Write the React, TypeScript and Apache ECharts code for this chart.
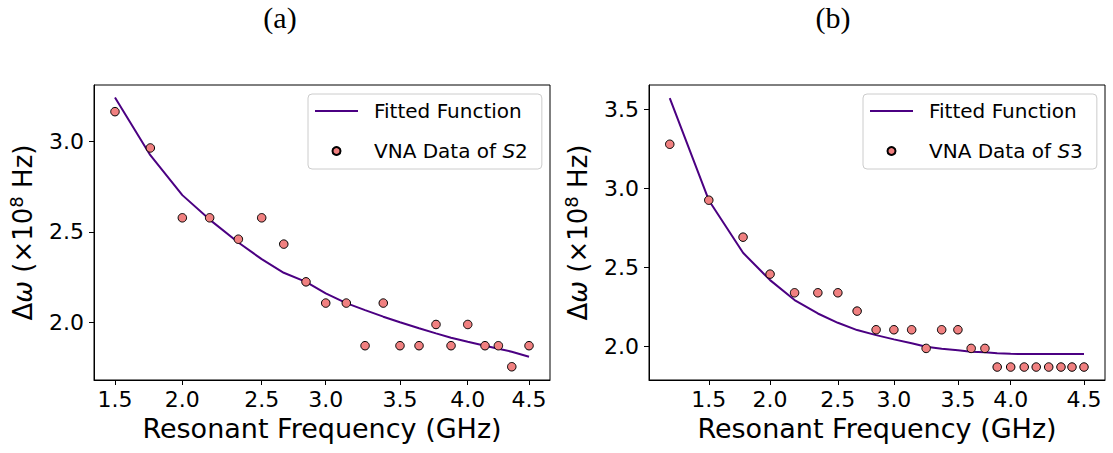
import React, { useEffect, useRef } from "react";
import * as echarts from "echarts";

// Panel (a): S2
const freqA = [1.500, 1.756, 1.988, 2.186, 2.394, 2.563, 2.723, 2.884, 3.027, 3.176, 3.312, 3.444, 3.565, 3.703, 3.826, 3.935, 4.056, 4.181, 4.278, 4.375, 4.500];
const vnaA = [3.163, 2.963, 2.578, 2.578, 2.460, 2.578, 2.433, 2.225, 2.108, 2.108, 1.873, 2.108, 1.873, 1.873, 1.990, 1.873, 1.990, 1.873, 1.873, 1.757, 1.873];
const fitA = [3.241, 2.923, 2.703, 2.568, 2.442, 2.350, 2.275, 2.225, 2.161, 2.108, 2.069, 2.033, 2.002, 1.969, 1.941, 1.917, 1.895, 1.873, 1.856, 1.840, 1.812];
const xTickValuesA = [1.500, 1.988, 2.563, 3.027, 3.565, 4.056, 4.500];
const xTickLabelsA = ["1.5", "2.0", "2.5", "3.0", "3.5", "4.0", "4.5"];
const yTickValuesA = [2.0, 2.5, 3.0];

// Panel (b): S3
const freqB = [1.188, 1.500, 1.774, 1.990, 2.186, 2.372, 2.532, 2.686, 2.838, 2.980, 3.122, 3.238, 3.362, 3.492, 3.598, 3.708, 3.806, 3.914, 4.022, 4.118, 4.218, 4.316, 4.404, 4.500];
const vnaB = [3.281, 2.927, 2.693, 2.459, 2.341, 2.341, 2.341, 2.225, 2.107, 2.107, 2.107, 1.989, 2.107, 2.107, 1.989, 1.989, 1.871, 1.871, 1.871, 1.871, 1.871, 1.871, 1.871, 1.871];
const fitB = [3.573, 2.927, 2.594, 2.421, 2.295, 2.210, 2.151, 2.105, 2.073, 2.046, 2.021, 1.999, 1.987, 1.978, 1.968, 1.964, 1.958, 1.955, 1.953, 1.953, 1.953, 1.953, 1.953, 1.953];
const xTickValuesB = [1.500, 1.990, 2.532, 2.980, 3.492, 3.914, 4.500];
const xTickLabelsB = ["1.5", "2.0", "2.5", "3.0", "3.5", "4.0", "4.5"];
const yTickValuesB = [2.0, 2.5, 3.0, 3.5];

const FONT = "DejaVu Sans";
const LINE_COLOR = "#4b0082";
const DOT_COLOR = "#f08080";

function nearestLabel(v: number, vals: number[], labels: string[]) {
  let best = 0;
  for (let i = 1; i < vals.length; i++) {
    if (Math.abs(vals[i] - v) < Math.abs(vals[best] - v)) best = i;
  }
  return labels[best];
}

const yName = "{t|Δ}{i|ω}{t| (×10}{s|8}{t| Hz)}";
const yNameRich = {
  t: { fontSize: 26, fontFamily: FONT, color: "#000", lineHeight: 32 },
  i: { fontSize: 26, fontFamily: FONT, fontStyle: "italic", color: "#000", lineHeight: 32 },
  s: { fontSize: 18, fontFamily: FONT, color: "#000", verticalAlign: "top", lineHeight: 18 },
};

function makeXAxis(gridIndex: number, min: number, max: number, tickVals: number[], tickLabels: string[]) {
  return {
    type: "value",
    gridIndex,
    min,
    max,
    name: "Resonant Frequency (GHz)",
    nameLocation: "middle",
    nameGap: 32,
    nameTextStyle: { fontSize: 27, fontFamily: FONT, color: "#000" },
    axisLine: { show: true, onZero: false, lineStyle: { color: "#000", width: 1 } },
    axisTick: { show: true, length: 5, inside: false, customValues: tickVals, lineStyle: { color: "#000" } },
    axisLabel: {
      show: true,
      customValues: tickVals,
      margin: 8,
      fontSize: 22,
      fontFamily: FONT,
      color: "#000",
      formatter: (v: number) => nearestLabel(v, tickVals, tickLabels),
    },
    splitLine: { show: false },
  };
}

function makeYAxis(gridIndex: number, min: number, max: number, tickVals: number[]) {
  return {
    type: "value",
    gridIndex,
    min,
    max,
    name: yName,
    nameLocation: "middle",
    nameGap: 55,
    nameTextStyle: { fontSize: 26, fontFamily: FONT, color: "#000", rich: yNameRich },
    axisLine: { show: true, onZero: false, lineStyle: { color: "#000", width: 1 } },
    axisTick: { show: true, length: 5, inside: false, customValues: tickVals, lineStyle: { color: "#000" } },
    axisLabel: {
      show: true,
      customValues: tickVals,
      margin: 10,
      fontSize: 22,
      fontFamily: FONT,
      color: "#000",
      formatter: (v: number) => v.toFixed(1),
    },
    splitLine: { show: false },
  };
}

function makeLegend(left: number, dataName: string) {
  return {
    orient: "vertical",
    left,
    top: 94,
    itemWidth: 43,
    itemHeight: 8,
    itemGap: 16,
    padding: [5, 14, 6, 7],
    symbolKeepAspect: true,
    backgroundColor: "rgba(255,255,255,0.8)",
    borderColor: "#cccccc",
    borderWidth: 1,
    borderRadius: 4,
    selectedMode: false,
    data: [
      { name: "Fitted Function", icon: "path://M0,0H43V2H0Z", itemStyle: { color: LINE_COLOR } },
      { name: dataName, icon: "circle" },
    ],
    formatter: (name: string) => {
      const m = name.match(/^(VNA Data of )S(\d)$/);
      if (m) return "{t|" + m[1] + "}{i|S}{t|" + m[2] + "}";
      return "{t|" + name + "}";
    },
    textStyle: {
      fontSize: 20,
      fontFamily: FONT,
      color: "#000",
      lineHeight: 24,
      padding: [0, 0, 0, 11],
      rich: {
        t: { fontSize: 20, fontFamily: FONT, color: "#000", lineHeight: 24 },
        i: { fontSize: 20, fontFamily: FONT, color: "#000", fontStyle: "italic", lineHeight: 24 },
      },
    },
  };
}

export default function App() {
  const ref = useRef<HTMLDivElement>(null);
  useEffect(() => {
    if (!ref.current) return;
    const chart = echarts.init(ref.current, null, { renderer: "svg" });
    const titleStyle = { fontFamily: "Liberation Serif", fontSize: 30, fontWeight: "normal", color: "#000" };
    const option = {
      animation: false,
      backgroundColor: "#fff",
      title: [
        { text: "(a)", left: 275, top: -3, textAlign: "center", textStyle: titleStyle },
        { text: "(b)", left: 828, top: -3, textAlign: "center", textStyle: titleStyle },
      ],
      grid: [
        { left: 94, top: 85, width: 456, height: 295, show: true, borderColor: "#000", borderWidth: 1, backgroundColor: "transparent" },
        { left: 649, top: 85, width: 456, height: 295, show: true, borderColor: "#000", borderWidth: 1, backgroundColor: "transparent" },
      ],
      xAxis: [
        makeXAxis(0, 1.348, 4.652, xTickValuesA, xTickLabelsA),
        makeXAxis(1, 1.022, 4.668, xTickValuesB, xTickLabelsB),
      ],
      yAxis: [makeYAxis(0, 1.684, 3.31, yTickValuesA), makeYAxis(1, 1.789, 3.656, yTickValuesB)],
      legend: [makeLegend(308, "VNA Data of S2"), makeLegend(863, "VNA Data of S3")],
      series: [
        {
          name: "Fitted Function",
          type: "line",
          xAxisIndex: 0,
          yAxisIndex: 0,
          symbol: "none",
          data: freqA.map((f, i) => [f, fitA[i]]),
          lineStyle: { color: LINE_COLOR, width: 2 },
          itemStyle: { color: LINE_COLOR },
          z: 2,
        },
        {
          name: "VNA Data of S2",
          type: "scatter",
          xAxisIndex: 0,
          yAxisIndex: 0,
          symbolSize: 8.5,
          data: freqA.map((f, i) => [f, vnaA[i]]),
          itemStyle: { color: DOT_COLOR, borderColor: "#000", borderWidth: 1, opacity: 1 },
          z: 3,
        },
        {
          name: "Fitted Function",
          type: "line",
          xAxisIndex: 1,
          yAxisIndex: 1,
          symbol: "none",
          data: freqB.map((f, i) => [f, fitB[i]]),
          lineStyle: { color: LINE_COLOR, width: 2 },
          itemStyle: { color: LINE_COLOR },
          z: 2,
        },
        {
          name: "VNA Data of S3",
          type: "scatter",
          xAxisIndex: 1,
          yAxisIndex: 1,
          symbolSize: 8.5,
          data: freqB.map((f, i) => [f, vnaB[i]]),
          itemStyle: { color: DOT_COLOR, borderColor: "#000", borderWidth: 1, opacity: 1 },
          z: 3,
        },
      ],
    };
    chart.setOption(option as any);
    return () => chart.dispose();
  }, []);
  return <div ref={ref} style={{ position: "absolute", left: 0, top: 0, width: 1113, height: 453 }} />;
}
